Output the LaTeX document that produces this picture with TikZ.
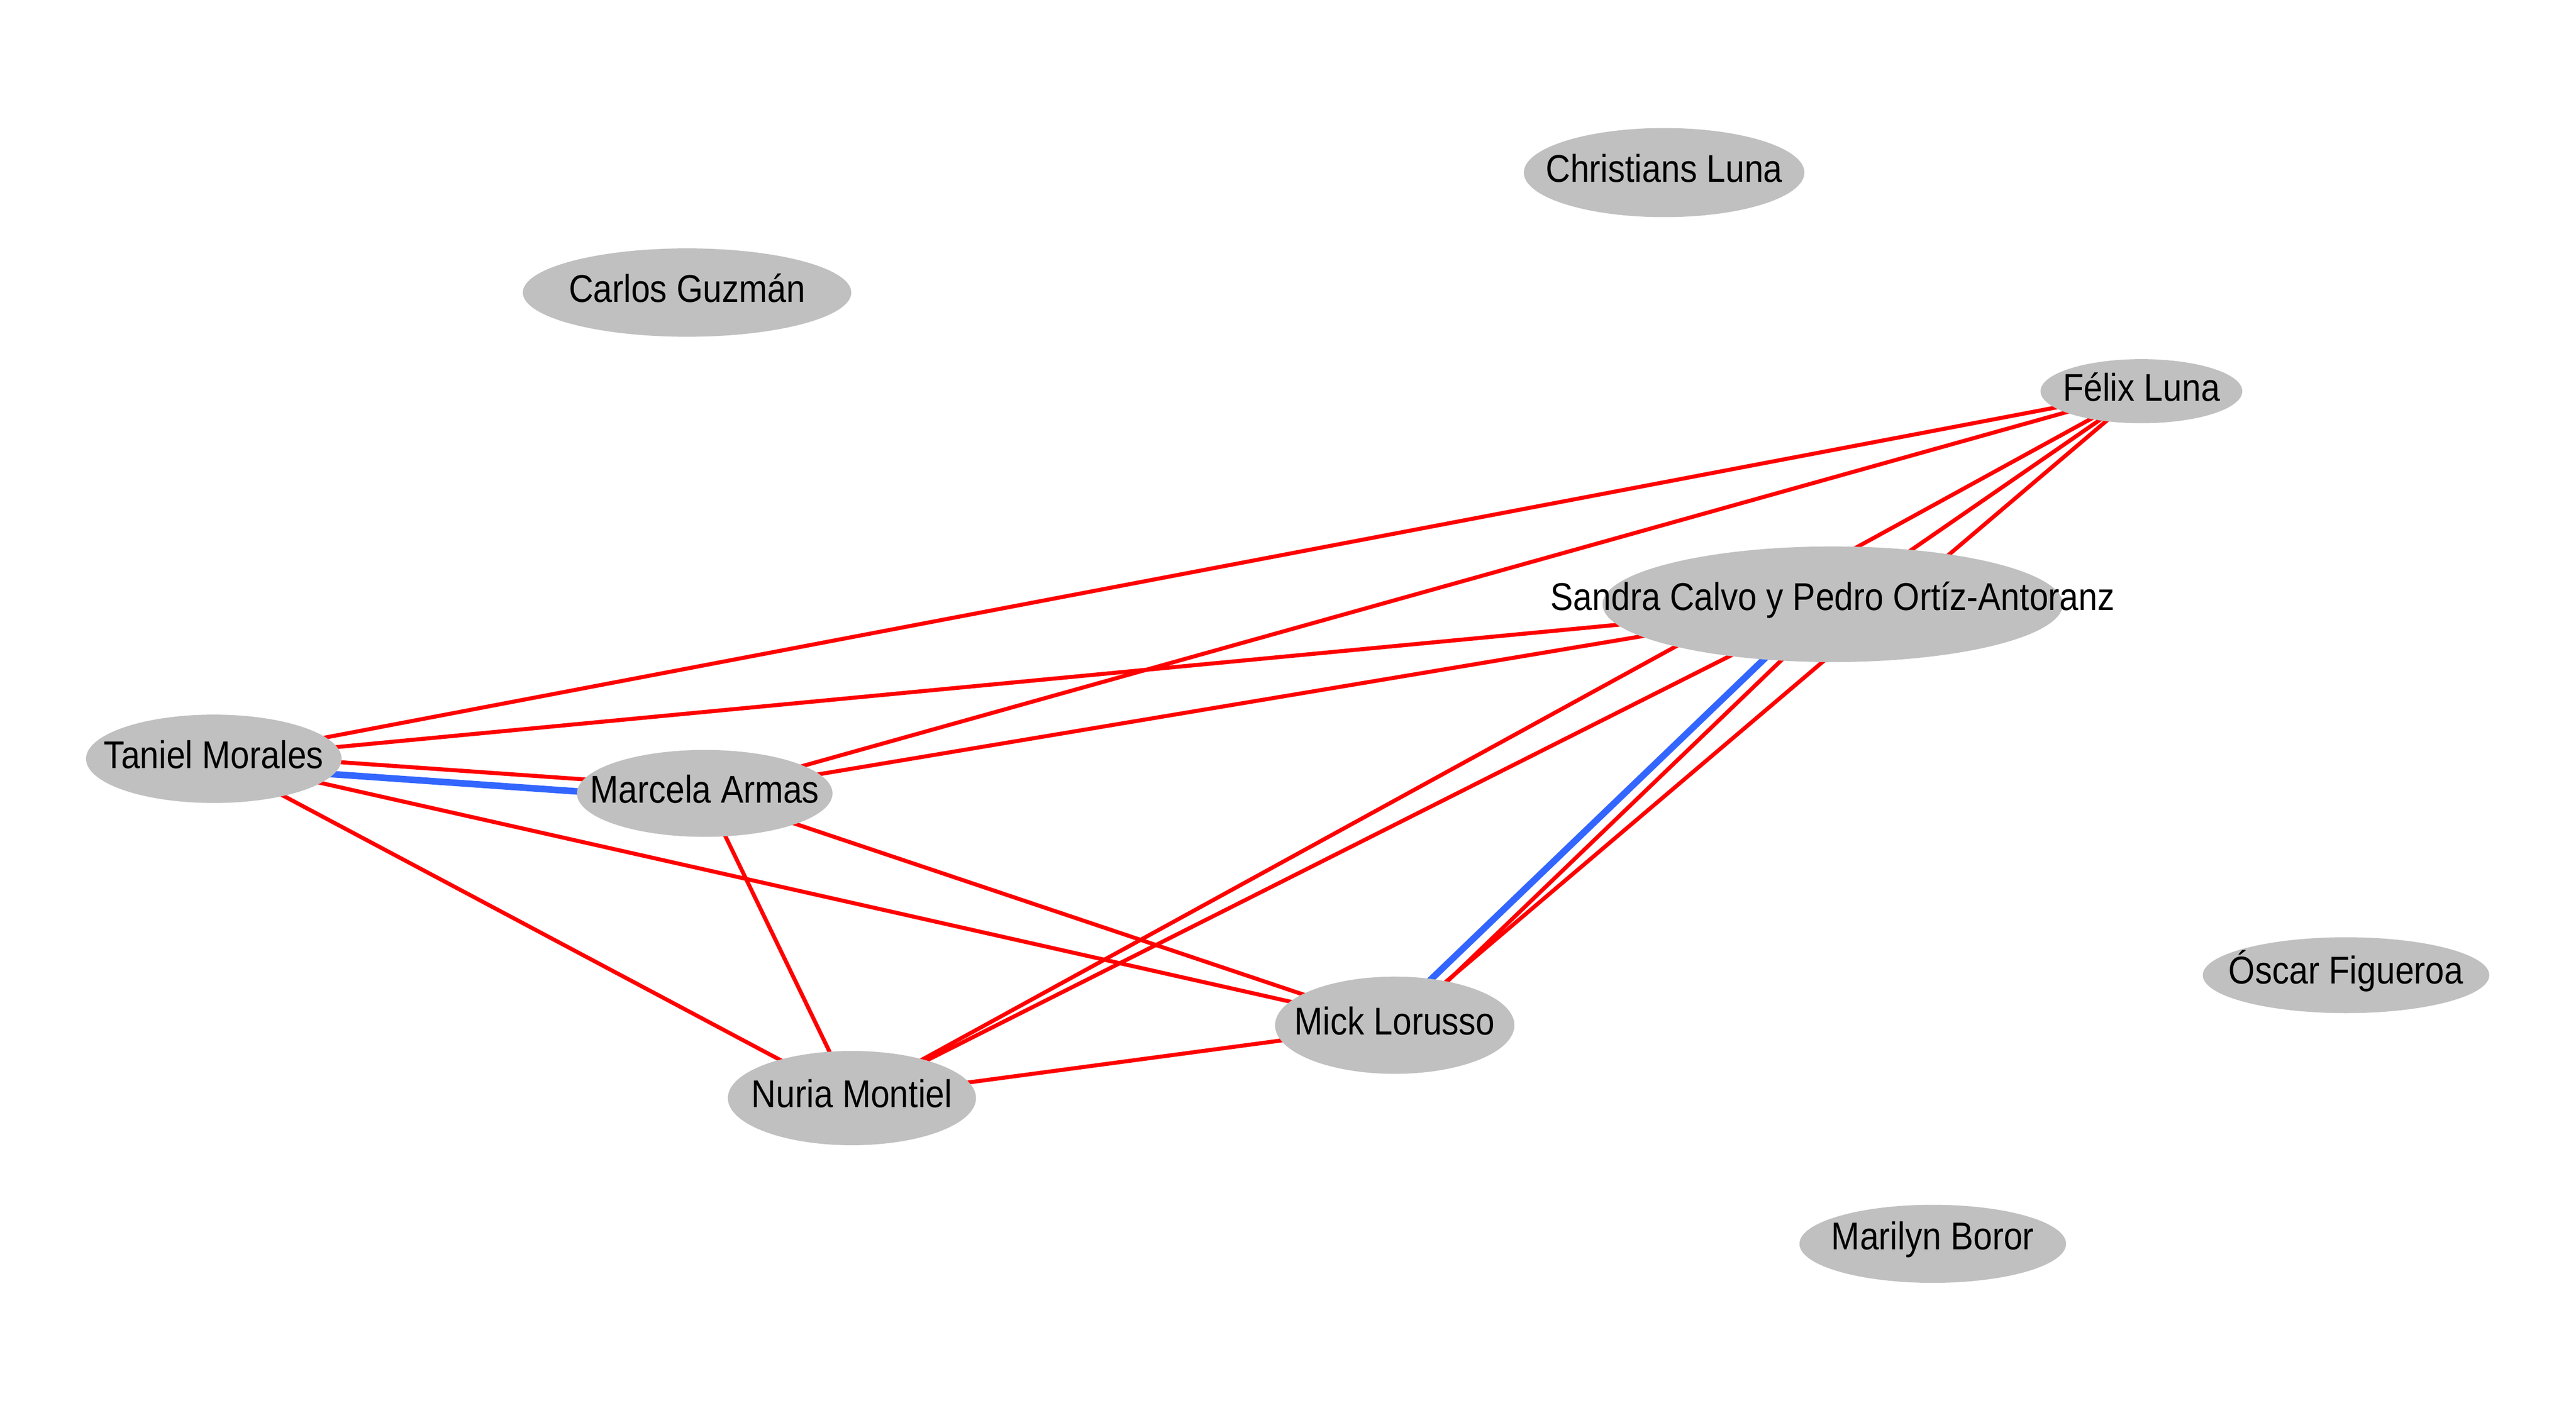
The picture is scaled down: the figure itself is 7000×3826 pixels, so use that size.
\documentclass[tikz,border=0pt]{standalone}
\usepackage{fontspec}
\setmainfont{Liberation Sans}[FakeStretch=0.88]
\usetikzlibrary{shapes.geometric}
\pgfdeclarelayer{edgelayer}
\pgfsetlayers{edgelayer,main}
\definecolor{nodegray}{RGB}{192,192,192}
\definecolor{edgered}{RGB}{255,0,0}
\definecolor{edgeblue}{RGB}{51,102,255}
\begin{document}
\begin{tikzpicture}[x=0.01cm,y=-0.01cm,
  person/.style={ellipse, fill=nodegray, draw=none, inner sep=0pt, outer sep=0pt},
  every label/.append style={font=\fontsize{29.9}{36}\selectfont, text=black, inner sep=0pt, yshift=0.12cm},
  redlink/.style={draw=edgered, line width=3.1pt},
  bluelink/.style={draw=edgeblue, line width=5.1pt}]
\useasboundingbox (0,0) rectangle (7000,3826);

\node[person, minimum width=7.62cm, minimum height=2.42cm, label=center:{Christians Luna}] (chr) at (4522,469) {};
\node[person, minimum width=8.92cm, minimum height=2.40cm, label=center:{Carlos Guzmán}] (car) at (1867,795) {};
\node[person, minimum width=5.48cm, minimum height=1.74cm, label=center:{Félix Luna}] (fel) at (5819,1063) {};
\node[person, minimum width=12.5cm, minimum height=3.14cm, label=center:{Sandra Calvo y Pedro Ortíz-Antoranz}] (san) at (4980,1642) {};
\node[person, minimum width=6.94cm, minimum height=2.40cm, label=center:{Taniel Morales}] (tan) at (581,2062) {};
\node[person, minimum width=6.94cm, minimum height=2.36cm, label=center:{Marcela Armas}] (mar) at (1915,2156) {};
\node[person, minimum width=7.78cm, minimum height=2.06cm, label=center:{Óscar Figueroa}] (osc) at (6375,2650) {};
\node[person, minimum width=6.5cm, minimum height=2.64cm, label=center:{Mick Lorusso}] (mic) at (3790,2786) {};
\node[person, minimum width=6.74cm, minimum height=2.56cm, label=center:{Nuria Montiel}] (nur) at (2315,2984) {};
\node[person, minimum width=7.24cm, minimum height=2.12cm, label=center:{Marilyn Boror}] (mly) at (5252,3380) {};

\begin{pgfonlayer}{edgelayer}
\draw[redlink] (tan.center) -- (fel.center);
\draw[redlink] (tan.center) -- (san.center);
\draw[redlink] ([yshift=0.15cm]tan.center) -- ([yshift=0.15cm]mar.center);
\draw[bluelink] ([yshift=-0.19cm]tan.center) -- ([yshift=-0.19cm]mar.center);
\draw[redlink] (tan.center) -- (mic.center);
\draw[redlink] (tan.center) -- (nur.center);
\draw[redlink] (mar.center) -- (fel.center);
\draw[redlink] (mar.center) -- (san.center);
\draw[redlink] (mar.center) -- (mic.center);
\draw[redlink] (mar.center) -- (nur.center);
\draw[redlink] (fel.center) -- (san.center);
\draw[redlink] (fel.center) -- (nur.center);
\draw[redlink] (fel.center) -- (mic.center);
\draw[redlink] (san.center) -- (nur.center);
\draw[redlink] ([xshift=0.09cm,yshift=-0.095cm]san.center) -- ([xshift=0.09cm,yshift=-0.095cm]mic.center);
\draw[bluelink] ([xshift=-0.15cm,yshift=0.155cm]san.center) -- ([xshift=-0.15cm,yshift=0.155cm]mic.center);
\draw[redlink] (mic.center) -- (nur.center);
\end{pgfonlayer}
\end{tikzpicture}
\end{document}
